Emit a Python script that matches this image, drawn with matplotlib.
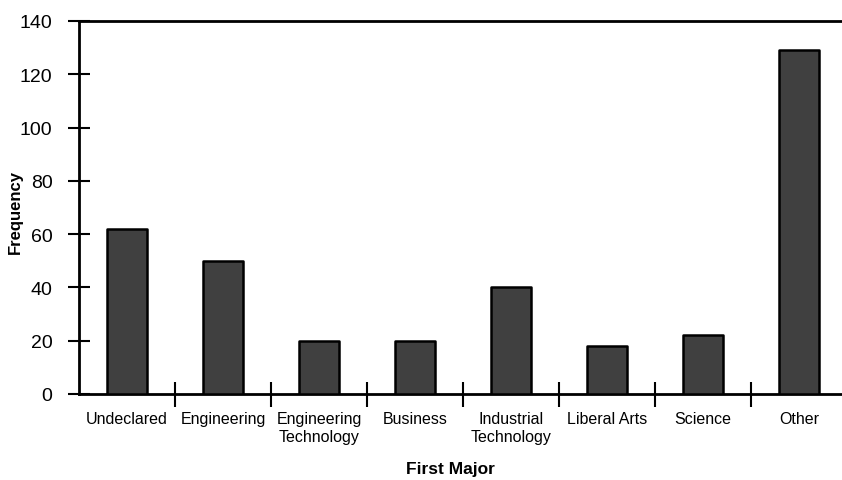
import matplotlib
matplotlib.use("Agg")
import matplotlib.pyplot as plt
import numpy as np

categories = ["Undeclared", "Engineering", "Engineering\nTechnology", "Business",
              "Industrial\nTechnology", "Liberal Arts", "Science", "Other"]
values = [62, 50, 20, 20, 40, 18, 22, 129]
yticks = [0, 20, 40, 60, 80, 100, 120, 140]

plt.rcParams['font.family'] = ['Liberation Sans', 'DejaVu Sans']

W, H = 842, 481
fig = plt.figure(figsize=(W / 100, H / 100), dpi=100)
left, right, top, bottom = 79, 847, 22, 395
ax = fig.add_axes([left / W, 1 - bottom / H, (right - left) / W, (bottom - top) / H])

x = np.arange(len(categories))
ax.bar(x, values, width=0.41, color="#404040", edgecolor="black", linewidth=1.8,
       joinstyle="round", zorder=3)

ax.set_xlim(-0.5, len(categories) - 0.5)
ax.set_ylim(0, 140)
ax.set_yticks(yticks)
ax.tick_params(axis="y", direction="inout", length=16, width=1.5, labelsize=14, pad=11)

ax.set_xticks(x[:-1] + 0.5)
ax.set_xticklabels([])
ax.set_xticks(x, minor=True)
ax.set_xticklabels(categories, minor=True, fontsize=11.5, linespacing=1.25)
ax.tick_params(axis="x", which="major", direction="inout", length=18, width=1.5)
ax.tick_params(axis="x", which="minor", length=0, pad=12)

for s in ["left", "bottom", "top"]:
    ax.spines[s].set_linewidth(2)
ax.spines["right"].set_visible(False)

fig.text(450 / W, 1 - 470 / H, "First Major", fontsize=12.5, fontweight="bold",
         ha="center", va="center")
fig.text(15 / W, 1 - 212 / H, "Frequency", fontsize=12, fontweight="bold",
         rotation=90, ha="center", va="center")

fig.savefig("out.png", dpi=100)
